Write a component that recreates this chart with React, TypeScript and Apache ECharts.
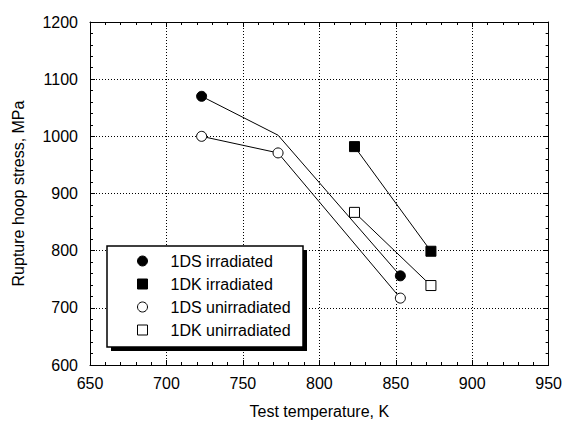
import React, { useEffect, useRef } from "react";
import * as echarts from "echarts";

const xTicks = { min: 650, max: 950, interval: 50 };
const yTicks = { min: 600, max: 1200, interval: 100 };

const seriesNames = ["1DS irradiated", "1DK irradiated", "1DS unirradiated", "1DK unirradiated"];

// 1DS irradiated: the middle vertex is a line bend without marker
const dsIrrTemp = [723, 773, 853];
const dsIrrStress = [1070, 1002, 756];
const dsIrrMarked = [true, false, true];

const dkIrrTemp = [823, 873];
const dkIrrStress = [982, 799];

const dsUnTemp = [723, 773, 853];
const dsUnStress = [1000, 971, 717];

const dkUnTemp = [823, 873];
const dkUnStress = [867, 739];

const FONT = "'Liberation Sans', Arial, Helvetica, sans-serif";

export default function App() {
  const ref = useRef<HTMLDivElement>(null);
  useEffect(() => {
    document.body.style.margin = "0";
    if (!ref.current) return;
    const chart = echarts.init(ref.current, undefined, { renderer: "svg" });
    const pts = (xs: number[], ys: number[]) => xs.map((x, i) => [x, ys[i]]);
    const lineStyle = { color: "#000", width: 1 };
    const filled = { color: "#000", borderColor: "#000", borderWidth: 1 };
    const open = { color: "#fff", borderColor: "#000", borderWidth: 1 };
    const axisCommon = (min: number, max: number, interval: number, showLabel: boolean, split: boolean) => ({
      type: "value",
      min,
      max,
      interval,
      axisLine: { show: true, onZero: false, lineStyle: { color: "#000", width: 1 } },
      axisTick: { show: true, inside: true, length: 5, lineStyle: { color: "#000", width: 1 } },
      minorTick: { show: true, splitNumber: 5, length: 3, lineStyle: { color: "#000", width: 1 } },
      axisLabel: { show: showLabel, color: "#000", fontSize: 16, fontFamily: FONT },
      splitLine: { show: split, lineStyle: { color: "#000", width: 1, type: [1, 2] } },
      minorSplitLine: { show: false },
    });
    const legendBox = { x: 107, y: 246, w: 196, h: 101, shadow: 4 };
    chart.setOption({
      animation: false,
      backgroundColor: "#fff",
      grid: { left: 90, right: 15, top: 22, bottom: 58 },
      xAxis: [
        {
          ...axisCommon(xTicks.min, xTicks.max, xTicks.interval, true, true),
          position: "bottom",
          name: "Test temperature, K",
          nameLocation: "middle",
          nameGap: 38,
          nameTextStyle: { color: "#000", fontSize: 16, fontFamily: FONT },
          axisLabel: { show: true, color: "#000", fontSize: 16, fontFamily: FONT, margin: 10, formatter: (v: number) => String(v) },
        },
        {
          ...axisCommon(xTicks.min, xTicks.max, xTicks.interval, false, false),
          position: "top",
        },
      ],
      yAxis: [
        {
          ...axisCommon(yTicks.min, yTicks.max, yTicks.interval, true, true),
          position: "left",
          name: "Rupture hoop stress, MPa",
          nameLocation: "middle",
          nameGap: 64,
          nameTextStyle: { color: "#000", fontSize: 16, fontFamily: FONT },
          axisLabel: { show: true, color: "#000", fontSize: 16, fontFamily: FONT, margin: 12, formatter: (v: number) => String(v) },
        },
        {
          ...axisCommon(yTicks.min, yTicks.max, yTicks.interval, false, false),
          position: "right",
        },
      ],
      graphic: [
        {
          type: "rect",
          z: 10,
          shape: { x: legendBox.x + legendBox.shadow, y: legendBox.y + legendBox.shadow, width: legendBox.w, height: legendBox.h },
          style: { fill: "#000" },
        },
        {
          type: "rect",
          z: 11,
          shape: { x: legendBox.x, y: legendBox.y, width: legendBox.w, height: legendBox.h },
          style: { fill: "#fff", stroke: "#000", lineWidth: 1.5 },
        },
      ],
      legend: {
        left: legendBox.x,
        top: legendBox.y,
        z: 12,
        orient: "vertical",
        itemWidth: 10,
        itemHeight: 10,
        itemGap: 7,
        padding: [7, 13, 7, 30],
        textStyle: { color: "#000", fontSize: 16, fontFamily: FONT, padding: [0, 0, 0, 18] },
        data: [
          { name: seriesNames[0], icon: "circle", itemStyle: filled },
          { name: seriesNames[1], icon: "rect", itemStyle: filled },
          { name: seriesNames[2], icon: "circle", itemStyle: open },
          { name: seriesNames[3], icon: "rect", itemStyle: open },
        ],
      },
      series: [
        {
          name: seriesNames[0],
          type: "line",
          symbol: "circle",
          symbolSize: 10,
          itemStyle: filled,
          lineStyle,
          data: dsIrrTemp.map((t, i) => ({
            value: [t, dsIrrStress[i]],
            symbol: dsIrrMarked[i] ? "circle" : "none",
          })),
          z: 3,
        },
        {
          name: seriesNames[1],
          type: "line",
          symbol: "rect",
          symbolSize: 10,
          itemStyle: filled,
          lineStyle,
          data: pts(dkIrrTemp, dkIrrStress),
          z: 3,
        },
        {
          name: seriesNames[2],
          type: "line",
          symbol: "circle",
          symbolSize: 10,
          itemStyle: open,
          lineStyle,
          data: pts(dsUnTemp, dsUnStress),
          z: 3,
        },
        {
          name: seriesNames[3],
          type: "line",
          symbol: "rect",
          symbolSize: 10,
          itemStyle: open,
          lineStyle,
          data: pts(dkUnTemp, dkUnStress),
          z: 3,
        },
      ],
    });
    return () => chart.dispose();
  }, []);
  return <div ref={ref} style={{ width: 565, height: 424 }} />;
}
